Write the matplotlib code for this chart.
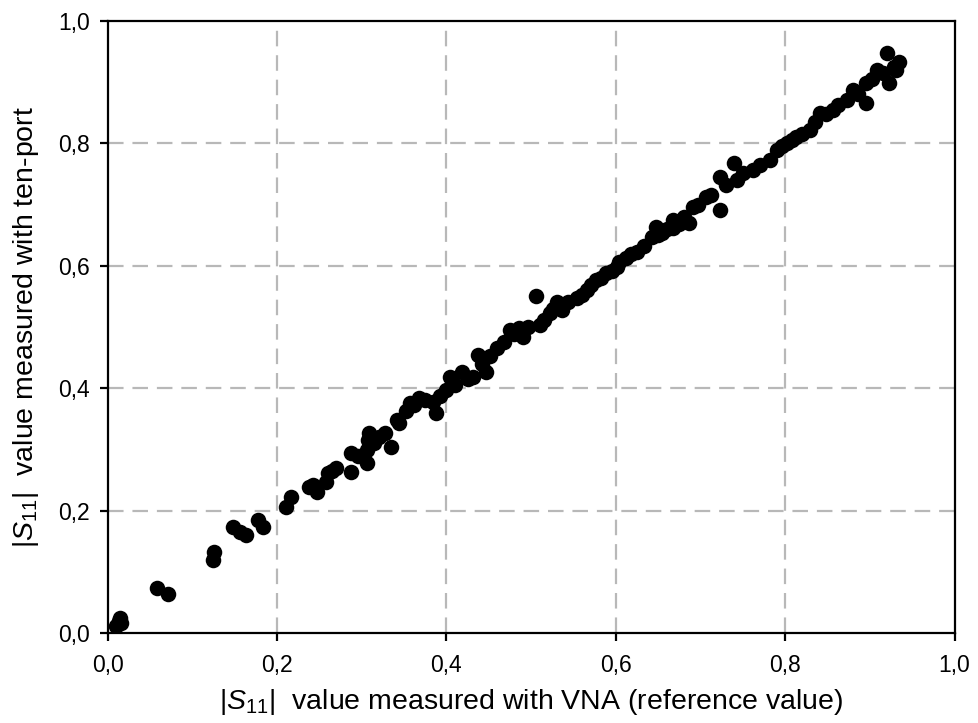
import matplotlib
matplotlib.use("Agg")
import matplotlib.pyplot as plt
from matplotlib.ticker import FuncFormatter

plt.rcParams['font.family'] = ['Liberation Sans', 'DejaVu Sans']
plt.rcParams['mathtext.fontset'] = 'custom'
plt.rcParams['mathtext.rm'] = 'Liberation Sans'
plt.rcParams['mathtext.it'] = 'Liberation Sans:italic'

vna = [0.010, 0.013, 0.015, 0.016, 0.058, 0.071, 0.124, 0.125, 0.148, 0.156, 0.163,
       0.178, 0.183, 0.210, 0.217, 0.238, 0.247, 0.258, 0.260, 0.270, 0.287, 0.287,
       0.306, 0.306, 0.307, 0.309, 0.327, 0.334, 0.342, 0.344, 0.357, 0.368, 0.384,
       0.388, 0.400, 0.404, 0.418, 0.431, 0.437, 0.447, 0.460, 0.475, 0.486, 0.490,
       0.506, 0.510, 0.522, 0.530, 0.536, 0.554, 0.566, 0.577, 0.589, 0.602, 0.604,
       0.625, 0.643, 0.648, 0.655, 0.667, 0.667, 0.687, 0.691, 0.707, 0.723, 0.723,
       0.740, 0.743, 0.762, 0.782, 0.790, 0.802, 0.813, 0.829, 0.841, 0.856, 0.873,
       0.880, 0.896, 0.896, 0.908, 0.920, 0.923, 0.931, 0.935,
       0.352, 0.362, 0.375, 0.393, 0.410, 0.425, 0.442, 0.452, 0.468, 0.480, 0.496,
       0.515, 0.526, 0.544, 0.560, 0.571, 0.583, 0.595, 0.612, 0.618, 0.633, 0.650,
       0.660, 0.675, 0.680, 0.697, 0.712, 0.730, 0.750, 0.770, 0.796, 0.808, 0.820,
       0.835, 0.848, 0.862, 0.886, 0.902, 0.915, 0.928, 0.265, 0.243, 0.295, 0.320,
       0.315]
tenport = [0.012, 0.020, 0.025, 0.016, 0.074, 0.064, 0.119, 0.132, 0.173, 0.165, 0.160,
           0.185, 0.173, 0.206, 0.222, 0.239, 0.231, 0.247, 0.261, 0.270, 0.294, 0.263,
           0.278, 0.299, 0.315, 0.327, 0.327, 0.304, 0.348, 0.343, 0.376, 0.384, 0.377,
           0.359, 0.397, 0.418, 0.426, 0.418, 0.454, 0.426, 0.466, 0.495, 0.498, 0.484,
           0.551, 0.503, 0.523, 0.541, 0.528, 0.547, 0.560, 0.577, 0.588, 0.598, 0.606,
           0.623, 0.647, 0.663, 0.654, 0.662, 0.675, 0.670, 0.696, 0.712, 0.691, 0.745,
           0.768, 0.740, 0.757, 0.773, 0.789, 0.801, 0.810, 0.822, 0.850, 0.855, 0.871,
           0.887, 0.866, 0.899, 0.920, 0.948, 0.899, 0.920, 0.933,
           0.362, 0.372, 0.380, 0.388, 0.405, 0.415, 0.440, 0.452, 0.475, 0.488, 0.500,
           0.512, 0.530, 0.540, 0.552, 0.568, 0.580, 0.592, 0.612, 0.620, 0.632, 0.650,
           0.660, 0.668, 0.680, 0.700, 0.715, 0.732, 0.752, 0.765, 0.796, 0.805, 0.815,
           0.835, 0.848, 0.862, 0.880, 0.905, 0.915, 0.925, 0.265, 0.242, 0.290, 0.320,
           0.310]

ticks = [0.0, 0.2, 0.4, 0.6, 0.8, 1.0]

fig = plt.figure(figsize=(9.79, 7.23), dpi=100)
ax = fig.add_axes([0.110, 0.1245, 0.865, 0.8465])

ax.scatter(vna, tenport, s=125, c='black', edgecolors='black', linewidths=0, zorder=3)

ax.set_xlim(0, 1)
ax.set_ylim(0, 1)
ax.set_xticks(ticks)
ax.set_yticks(ticks)
fmt = FuncFormatter(lambda v, p: f"{v:.1f}".replace('.', ','))
ax.xaxis.set_major_formatter(fmt)
ax.yaxis.set_major_formatter(fmt)

for v in ticks[1:-1]:
    ax.axvline(v, color='#b8b8b8', lw=1.6, dashes=(7, 4), zorder=1)
    ax.axhline(v, color='#b8b8b8', lw=1.6, dashes=(7, 4), zorder=1)

for s in ax.spines.values():
    s.set_linewidth(1.6)
    s.set_color('black')
ax.tick_params(direction='out', length=6, width=1.6, labelsize=16.5)
ax.tick_params(axis='x', pad=9)
ax.tick_params(axis='y', pad=7)

ax.set_xlabel(r'$|S_{\mathit{11}}|$  value measured with VNA (reference value)', fontsize=20.5)
ax.set_ylabel(r'$|S_{\mathit{11}}|$  value measured with ten-port', fontsize=20.5)
ax.xaxis.set_label_coords(0.5, -0.088)
ax.yaxis.set_label_coords(-0.079, 0.5)

fig.savefig('out.png', dpi=100, facecolor='white')
